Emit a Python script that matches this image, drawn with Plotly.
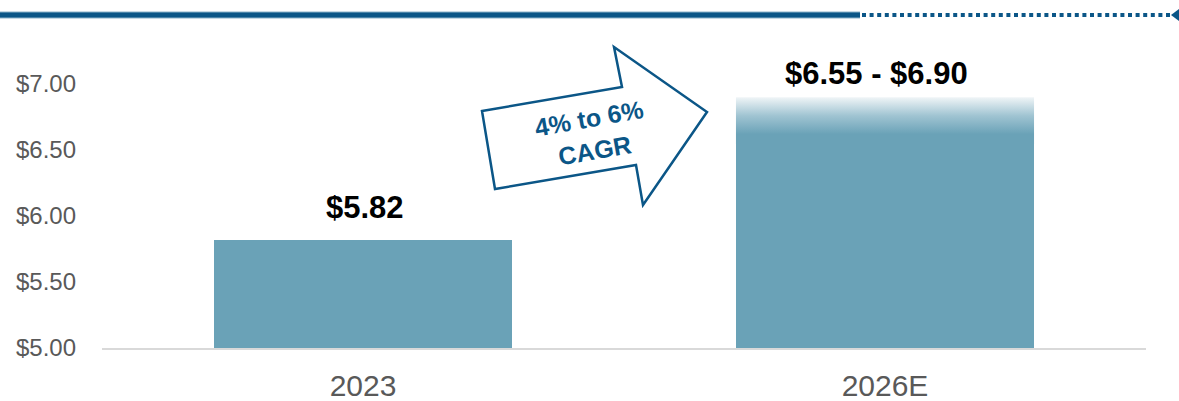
import plotly.graph_objects as go

# ---- data ----
categories = ["2023", "2026E"]
values_low = [5.82, 6.55]
values_high = [5.82, 6.90]
bar_labels = ["$5.82", "$6.55 - $6.90"]
y_ticks = [5.0, 5.5, 6.0, 6.5, 7.0]
y_tick_text = ["$5.00", "$5.50", "$6.00", "$6.50", "$7.00"]
cagr_text = "4% to 6%<br>CAGR"

BAR_COLOR = "rgb(106,162,183)"
DARK_BLUE = "#0b5687"
BAR_W = 0.571
LABEL_SHIFTS = [(2, 13), (-9, 4)]  # (x px, y px) styling offsets for value labels

W, H = 1179, 401
M_L, M_R, M_T, M_B = 102, W - 1146, 51, 53
Y_RANGE = [5.0, 7.25]


def px(x):
    return (x - M_L) / (W - M_L - M_R)


def py(y):
    return (H - M_B - y) / (H - M_T - M_B)


xs = list(range(len(categories)))
fig = go.Figure()

# solid bars (up to low value)
fig.add_trace(go.Bar(
    x=xs, y=values_low, width=BAR_W, marker=dict(color=BAR_COLOR, line=dict(width=0)),
    hoverinfo="skip", showlegend=False,
))

# gradient part for ranges
for i, (lo, hi) in enumerate(zip(values_low, values_high)):
    if hi > lo:
        x0, x1 = i - BAR_W / 2, i + BAR_W / 2
        fig.add_trace(go.Scatter(
            x=[x0, x1, x1, x0, x0], y=[lo - 0.01, lo - 0.01, hi, hi, lo - 0.01],
            mode="lines", line=dict(width=0), fill="toself",
            fillgradient=dict(
                type="vertical", start=lo, stop=hi,
                colorscale=[[0, BAR_COLOR], [0.2, BAR_COLOR],
                            [0.6, "rgb(160,196,210)"], [1, "rgb(240,245,247)"]],
            ),
            hoverinfo="skip", showlegend=False,
        ))

# value labels
for i, (hi, lab) in enumerate(zip(values_high, bar_labels)):
    dx, dy = LABEL_SHIFTS[i]
    fig.add_annotation(
        x=i, y=hi, text=f"<b>{lab}</b>", showarrow=False, yanchor="bottom",
        xshift=dx, yshift=dy,
        font=dict(family="Liberation Sans, Arial", size=31, color="black"),
    )

# top decorative line
fig.add_shape(type="line", xref="paper", yref="paper", x0=px(0), x1=px(860), y0=py(15), y1=py(15),
              line=dict(color="#8db3c9", width=7))
fig.add_shape(type="line", xref="paper", yref="paper", x0=px(0), x1=px(860), y0=py(15), y1=py(15),
              line=dict(color=DARK_BLUE, width=5))
fig.add_shape(type="line", xref="paper", yref="paper", x0=px(862), x1=px(1170), y0=py(15), y1=py(15),
              line=dict(color=DARK_BLUE, width=4, dash="4px,3.6px"))
fig.add_shape(type="path", xref="paper", yref="paper",
              path=f"M {px(1171)},{py(15)} L {px(1179)},{py(9)} L {px(1179)},{py(21)} Z",
              fillcolor=DARK_BLUE, line=dict(width=0))

# CAGR arrow
pts = [(482, 111), (622, 87), (614, 47), (707, 112), (643, 205), (636, 165), (495, 189)]
path = "M " + " L ".join(f"{px(a)},{py(b)}" for a, b in pts) + " Z"
fig.add_shape(type="path", xref="paper", yref="paper", path=path,
              fillcolor="white", line=dict(color=DARK_BLUE, width=2.5))
fig.add_annotation(
    xref="paper", yref="paper", x=px(592), y=py(134), text=f"<b>{cagr_text}</b>",
    showarrow=False, textangle=-10, xanchor="center", yanchor="middle",
    font=dict(family="Liberation Sans, Arial", size=25, color=DARK_BLUE),
)

fig.update_layout(
    width=W, height=H,
    margin=dict(l=M_L, r=M_R, t=M_T, b=M_B, autoexpand=False),
    paper_bgcolor="white", plot_bgcolor="white",
    font=dict(family="Liberation Sans, Arial"),
    bargap=0.0,
)
fig.update_xaxes(
    range=[-0.5, 1.5], tickvals=xs, ticktext=categories, showgrid=False, zeroline=False,
    showline=True, linecolor="#d9d9d9", linewidth=2, ticks="", automargin=False,
    tickfont=dict(size=30, color="#595959"), ticklabelstandoff=10,
)
fig.update_yaxes(
    range=Y_RANGE, tickvals=y_ticks, ticktext=y_tick_text, showgrid=False, zeroline=False,
    showline=False, ticks="", automargin=False,
    tickfont=dict(size=24, color="#595959"), ticklabelstandoff=25,
)

fig.write_html("out.html")
